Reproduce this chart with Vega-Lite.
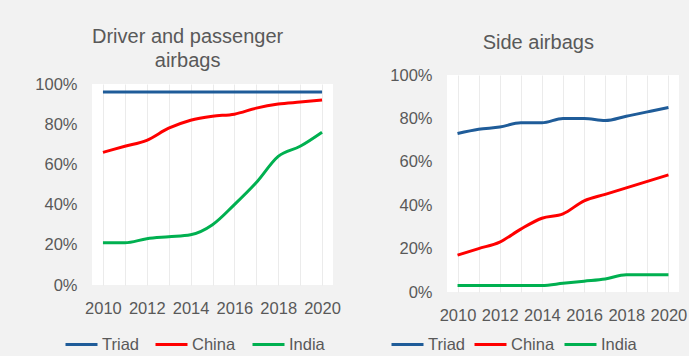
{
  "$schema": "https://vega.github.io/schema/vega-lite/v6.json",
  "background": "#f2f2f2",
  "padding": 0,
  "config": {
    "font": "Liberation Sans",
    "view": {"fill": "white", "stroke": null},
    "title": {"fontSize": 20, "fontWeight": "normal", "color": "#595959", "anchor": "middle", "frame": "bounds", "lineHeight": 24},
    "axis": {"domain": false, "ticks": false, "labelFontSize": 16.5, "labelColor": "#595959", "title": null},
    "legend": {"padding": 0}
  },
  "datasets": {
    "front": [
      {"year": 2010, "region": "Triad", "share": 0.96}, {"year": 2011, "region": "Triad", "share": 0.96}, {"year": 2012, "region": "Triad", "share": 0.96}, {"year": 2013, "region": "Triad", "share": 0.96}, {"year": 2014, "region": "Triad", "share": 0.96}, {"year": 2015, "region": "Triad", "share": 0.96}, {"year": 2016, "region": "Triad", "share": 0.96}, {"year": 2017, "region": "Triad", "share": 0.96}, {"year": 2018, "region": "Triad", "share": 0.96}, {"year": 2019, "region": "Triad", "share": 0.96}, {"year": 2020, "region": "Triad", "share": 0.96},
      {"year": 2010, "region": "China", "share": 0.66}, {"year": 2011, "region": "China", "share": 0.69}, {"year": 2012, "region": "China", "share": 0.72}, {"year": 2013, "region": "China", "share": 0.78}, {"year": 2014, "region": "China", "share": 0.82}, {"year": 2015, "region": "China", "share": 0.84}, {"year": 2016, "region": "China", "share": 0.85}, {"year": 2017, "region": "China", "share": 0.88}, {"year": 2018, "region": "China", "share": 0.9}, {"year": 2019, "region": "China", "share": 0.91}, {"year": 2020, "region": "China", "share": 0.92},
      {"year": 2010, "region": "India", "share": 0.21}, {"year": 2011, "region": "India", "share": 0.21}, {"year": 2012, "region": "India", "share": 0.23}, {"year": 2013, "region": "India", "share": 0.24}, {"year": 2014, "region": "India", "share": 0.25}, {"year": 2015, "region": "India", "share": 0.3}, {"year": 2016, "region": "India", "share": 0.4}, {"year": 2017, "region": "India", "share": 0.51}, {"year": 2018, "region": "India", "share": 0.64}, {"year": 2019, "region": "India", "share": 0.69}, {"year": 2020, "region": "India", "share": 0.76}
    ],
    "side": [
      {"year": 2010, "region": "Triad", "share": 0.73}, {"year": 2011, "region": "Triad", "share": 0.75}, {"year": 2012, "region": "Triad", "share": 0.76}, {"year": 2013, "region": "Triad", "share": 0.78}, {"year": 2014, "region": "Triad", "share": 0.78}, {"year": 2015, "region": "Triad", "share": 0.8}, {"year": 2016, "region": "Triad", "share": 0.8}, {"year": 2017, "region": "Triad", "share": 0.79}, {"year": 2018, "region": "Triad", "share": 0.81}, {"year": 2019, "region": "Triad", "share": 0.83}, {"year": 2020, "region": "Triad", "share": 0.85},
      {"year": 2010, "region": "China", "share": 0.17}, {"year": 2011, "region": "China", "share": 0.2}, {"year": 2012, "region": "China", "share": 0.23}, {"year": 2013, "region": "China", "share": 0.29}, {"year": 2014, "region": "China", "share": 0.34}, {"year": 2015, "region": "China", "share": 0.36}, {"year": 2016, "region": "China", "share": 0.42}, {"year": 2017, "region": "China", "share": 0.45}, {"year": 2018, "region": "China", "share": 0.48}, {"year": 2019, "region": "China", "share": 0.51}, {"year": 2020, "region": "China", "share": 0.54},
      {"year": 2010, "region": "India", "share": 0.03}, {"year": 2011, "region": "India", "share": 0.03}, {"year": 2012, "region": "India", "share": 0.03}, {"year": 2013, "region": "India", "share": 0.03}, {"year": 2014, "region": "India", "share": 0.03}, {"year": 2015, "region": "India", "share": 0.04}, {"year": 2016, "region": "India", "share": 0.05}, {"year": 2017, "region": "India", "share": 0.06}, {"year": 2018, "region": "India", "share": 0.08}, {"year": 2019, "region": "India", "share": 0.08}, {"year": 2020, "region": "India", "share": 0.08}
    ]
  },
  "spacing": 0,
  "hconcat": [
    {"data": {"values": []}, "mark": "point", "width": 22, "height": 356},
    {
      "spacing": 0,
      "vconcat": [
        {"data": {"values": []}, "mark": "point", "width": 667, "height": 14},
        {
          "spacing": 11,
          "hconcat": [
            {"data": {"values": []}, "mark": "point", "width": 1, "height": 1, "view": {"fill": null}},
            {
              "spacing": 48,
              "resolve": {"scale": {"x": "independent", "y": "independent", "color": "independent"}, "legend": {"color": "independent"}},
              "hconcat": [
                {
                  "spacing": 12,
                  "vconcat": [
                    {"data": {"values": []}, "mark": "point", "width": 1, "height": 1, "view": {"fill": null}},
                    {
                      "data": {"name": "front"},
                      "title": {"text": ["Driver and passenger", "airbags"], "offset": 5},
                      "width": 241,
                      "height": 201,
                      "mark": {"type": "line", "strokeWidth": 3, "interpolate": "monotone"},
                      "encoding": {
                        "x": {"field": "year", "type": "quantitative", "scale": {"domain": [2009.5, 2020.5], "nice": false, "zero": false},
                          "axis": {"values": [2010, 2011, 2012, 2013, 2014, 2015, 2016, 2017, 2018, 2019, 2020], "format": "d", "labelExpr": "datum.value % 2 == 0 ? datum.label : ''", "grid": true, "gridColor": "#ebebeb", "labelPadding": 15, "labelFlush": false}},
                        "y": {"field": "share", "type": "quantitative", "scale": {"domain": [0, 1], "nice": false},
                          "axis": {"values": [0, 0.2, 0.4, 0.6, 0.8, 1], "format": ".0%", "grid": false, "labelPadding": 15}},
                        "color": {"field": "region", "type": "nominal", "sort": ["Triad", "China", "India"],
                          "scale": {"domain": ["Triad", "China", "India"], "range": ["#1f5c99", "#ff0000", "#00b050"]},
                          "legend": {"title": null, "orient": "none", "direction": "horizontal", "legendX": -28, "legendY": 313, "symbolType": "stroke", "symbolSize": 1024, "symbolStrokeWidth": 3, "labelFontSize": 16.5, "labelColor": "#595959", "labelOffset": 3, "columnPadding": 10}}
                      }
                    }
                  ]
                },
                {
                  "spacing": 18,
                  "vconcat": [
                    {"data": {"values": []}, "mark": "point", "width": 1, "height": 1, "view": {"fill": null}},
                    {
                      "data": {"name": "side"},
                      "title": {"text": "Side airbags", "offset": 14},
                      "width": 232,
                      "height": 217,
                      "mark": {"type": "line", "strokeWidth": 3, "interpolate": "monotone"},
                      "encoding": {
                        "x": {"field": "year", "type": "quantitative", "scale": {"domain": [2009.5, 2020.5], "nice": false, "zero": false},
                          "axis": {"values": [2010, 2011, 2012, 2013, 2014, 2015, 2016, 2017, 2018, 2019, 2020], "format": "d", "labelExpr": "datum.value % 2 == 0 ? datum.label : ''", "grid": true, "gridColor": "#ebebeb", "labelPadding": 15, "labelFlush": false}},
                        "y": {"field": "share", "type": "quantitative", "scale": {"domain": [0, 1], "nice": false},
                          "axis": {"values": [0, 0.2, 0.4, 0.6, 0.8, 1], "format": ".0%", "grid": false, "labelPadding": 15}},
                        "color": {"field": "region", "type": "nominal", "sort": ["Triad", "China", "India"],
                          "scale": {"domain": ["Triad", "China", "India"], "range": ["#1f5c99", "#ff0000", "#00b050"]},
                          "legend": {"title": null, "orient": "none", "direction": "horizontal", "legendX": -57, "legendY": 313, "symbolType": "stroke", "symbolSize": 1024, "symbolStrokeWidth": 3, "labelFontSize": 16.5, "labelColor": "#595959", "labelOffset": 3, "columnPadding": 3}}
                      }
                    }
                  ]
                }
              ]
            }
          ]
        }
      ]
    }
  ]
}
